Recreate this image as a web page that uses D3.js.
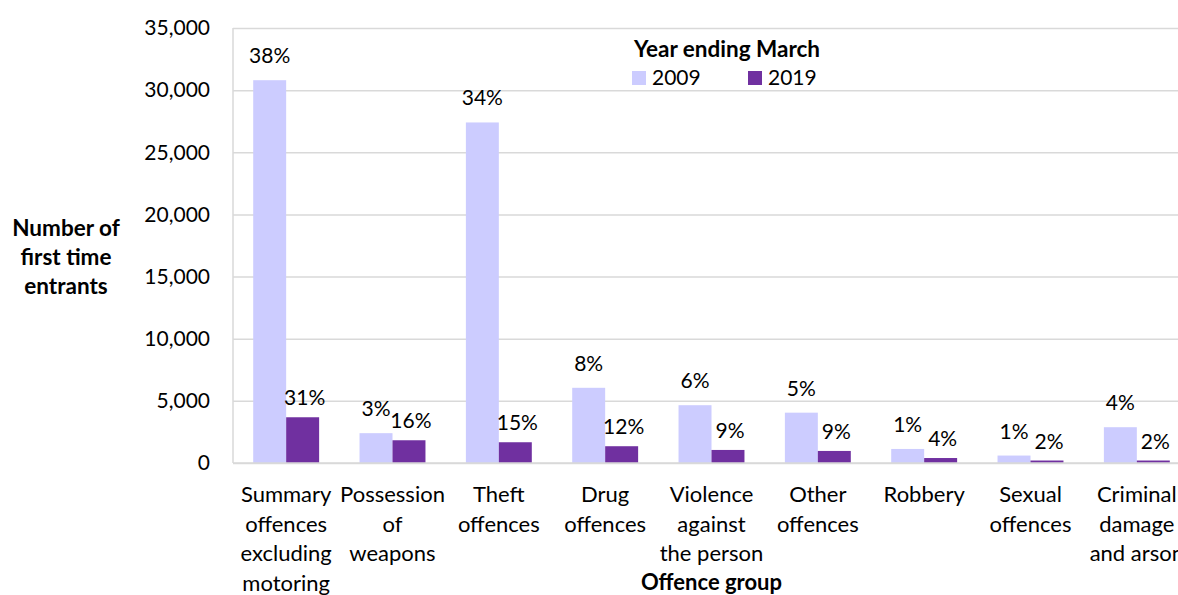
<!DOCTYPE html>
<html>
<head>
<meta charset="utf-8">
<script src="https://cdn.jsdelivr.net/npm/d3@7"></script>
<style>
  html, body { margin: 0; padding: 0; background: #fff; }
  svg { display: block; font-family: "Lato", "Open Sans", sans-serif; }
</style>
</head>
<body>
<svg id="chart" width="1178" height="595"></svg>
<script>
// ---- data ----
const categories = [
  "Summary offences excluding motoring",
  "Possession of weapons",
  "Theft offences",
  "Drug offences",
  "Violence against the person",
  "Other offences",
  "Robbery",
  "Sexual offences",
  "Criminal damage and arson"
];
const categoryLines = [
  ["Summary", "offences", "excluding", "motoring"],
  ["Possession", "of", "weapons"],
  ["Theft", "offences"],
  ["Drug", "offences"],
  ["Violence", "against", "the person"],
  ["Other", "offences"],
  ["Robbery"],
  ["Sexual", "offences"],
  ["Criminal", "damage", "and arson"]
];
const seriesNames = ["2009", "2019"];
const values2009 = [30800, 2400, 27400, 6050, 4650, 4050, 1130, 600, 2880];
const values2019 = [3680, 1830, 1670, 1350, 1050, 970, 400, 200, 200];
const pct2009 = ["38%", "3%", "34%", "8%", "6%", "5%", "1%", "1%", "4%"];
const pct2019 = ["31%", "16%", "15%", "12%", "9%", "9%", "4%", "2%", "2%"];
const yTicks = [0, 5000, 10000, 15000, 20000, 25000, 30000, 35000];
const colors = ["#CCCCFF", "#7030A0"];

// ---- layout ----
const svg = d3.select("#chart");
const mLeft = 233, mRight = 1190, mTop = 28, mBottom = 463;
const fontSize = 21, labelSize = 22, boldSize = 22.5;

const x0 = d3.scaleBand().domain(categories).range([mLeft, mRight]).padding(0);
const barW = x0.bandwidth() * 0.31;
const x1 = d3.scaleBand().domain(seriesNames)
  .range([x0.bandwidth() / 2 - barW, x0.bandwidth() / 2 + barW]).padding(0);
const y = d3.scaleLinear().domain([0, 35000]).range([mBottom, mTop]);

// gridlines + y axis
const yAxis = svg.append("g")
  .attr("transform", `translate(${mLeft},0)`)
  .call(d3.axisLeft(y).tickValues(yTicks).tickSize(-(mRight - mLeft)).tickPadding(23)
    .tickFormat(d3.format(",")));
yAxis.select(".domain").remove();
yAxis.selectAll(".tick line").attr("stroke", "#d9d9d9").attr("stroke-width", 1.5);
yAxis.selectAll(".tick text").attr("font-size", fontSize).attr("fill", "#000")
  .attr("font-family", "Lato, 'Open Sans', sans-serif");

// left vertical axis line
svg.append("line").attr("x1", mLeft).attr("x2", mLeft).attr("y1", mTop).attr("y2", mBottom)
  .attr("stroke", "#d9d9d9").attr("stroke-width", 1.5);

// bars
const rows = categories.map((c, i) => ({
  cat: c,
  items: [
    { s: "2009", v: values2009[i], p: pct2009[i], c: colors[0] },
    { s: "2019", v: values2019[i], p: pct2019[i], c: colors[1] }
  ]
}));
const grp = svg.append("g").selectAll("g").data(rows).join("g")
  .attr("transform", d => `translate(${x0(d.cat)},0)`);
grp.selectAll("rect").data(d => d.items).join("rect")
  .attr("x", d => x1(d.s)).attr("width", x1.bandwidth())
  .attr("y", d => y(d.v)).attr("height", d => y(0) - y(d.v))
  .attr("fill", d => d.c);
grp.selectAll("text").data(d => d.items).join("text")
  .attr("x", d => x1(d.s) + x1.bandwidth() / 2 + (d.s === "2019" ? 2 : 0))
  .attr("y", d => y(d.v) - (d.s === "2009" ? 17 : 12))
  .attr("text-anchor", "middle").attr("font-size", fontSize).attr("fill", "#000")
  .text(d => d.p);

// baseline
svg.append("line").attr("x1", mLeft).attr("x2", mRight).attr("y1", mBottom).attr("y2", mBottom)
  .attr("stroke", "#d9d9d9").attr("stroke-width", 1.5);

// category labels
const catG = svg.append("g");
categories.forEach((c, i) => {
  const cx = x0(c) + x0.bandwidth() / 2;
  const t = catG.append("text")
    .attr("x", cx).attr("y", 502)
    .attr("text-anchor", "middle").attr("font-size", labelSize).attr("fill", "#000");
  categoryLines[i].forEach((ln, j) => {
    t.append("tspan").attr("x", cx).attr("dy", j === 0 ? 0 : 29.5).text(ln);
  });
});

// axis titles
const yt = svg.append("text").attr("text-anchor", "middle").attr("font-size", boldSize)
  .attr("font-weight", "bold").attr("fill", "#000").attr("y", 236);
["Number of", "first time", "entrants"].forEach((ln, j) => {
  yt.append("tspan").attr("x", 66).attr("dy", j === 0 ? 0 : 29).text(ln);
});
svg.append("text").attr("x", (mLeft + mRight) / 2).attr("y", 590)
  .attr("text-anchor", "middle").attr("font-size", labelSize).attr("font-weight", "bold")
  .text("Offence group");

// legend
svg.append("text").attr("x", 727).attr("y", 57).attr("text-anchor", "middle")
  .attr("font-size", boldSize).attr("font-weight", "bold").text("Year ending March");
const legX = [632, 748];
seriesNames.forEach((s, i) => {
  svg.append("rect").attr("x", legX[i]).attr("y", 71).attr("width", 14).attr("height", 14)
    .attr("fill", colors[i]);
  svg.append("text").attr("x", legX[i] + 20).attr("y", 85).attr("font-size", fontSize).text(s);
});
</script>
</body>
</html>
